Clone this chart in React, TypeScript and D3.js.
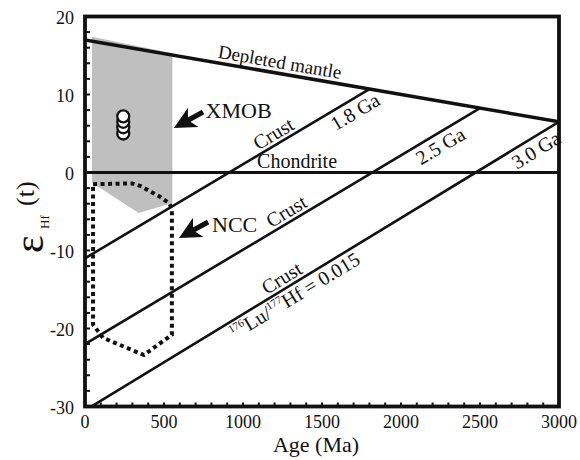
import * as d3 from "d3";
import React from "react";

// evolution lines (age in Ma, epsilon Hf)
const depletedMantle = [{ age: 0, e: 17.0 }, { age: 3000, e: 6.5 }];
const chondrite = [{ age: 0, e: 0 }, { age: 3000, e: 0 }];
const crust18 = [{ age: 0, e: -11.0 }, { age: 1800, e: 10.7 }];
const crust25 = [{ age: 0, e: -22.0 }, { age: 2500, e: 8.25 }];
const crust30 = [{ age: 0, e: -30.5 }, { age: 3000, e: 6.5 }];

// XMOB field (grey) and NCC field (dotted)
const xmobField = [
  { age: 44, e: 17.4 }, { age: 553, e: 15.3 }, { age: 553, e: -3.9 },
  { age: 340, e: -5.2 }, { age: 44, e: -1.3 },
];
const nccField = [
  { age: 51, e: -1.5 }, { age: 300, e: -1.4 }, { age: 360, e: -1.8 },
  { age: 410, e: -2.4 }, { age: 474, e: -3.1 }, { age: 530, e: -3.9 },
  { age: 550, e: -4.6 }, { age: 550, e: -20.8 }, { age: 373, e: -23.4 },
  { age: 114, e: -21.2 }, { age: 51, e: -19.5 },
];

// zircon samples
const sampleAges = [242, 242, 242, 242];
const sampleEHf = [5.0, 5.8, 6.5, 7.2];

const xTicks = [0, 500, 1000, 1500, 2000, 2500, 3000];
const yTicks = [-30, -20, -10, 0, 10, 20];
const xMinor = d3.range(0, 3001, 100);
const yMinor = d3.range(-30, 21, 2);

const W = 580, H = 460;
const x = d3.scaleLinear().domain([0, 3000]).range([85, 559]);
const y = d3.scaleLinear().domain([-30, 20]).range([406.5, 16.5]);

const line = d3.line<{ age: number; e: number }>().x(d => x(d.age)).y(d => y(d.e));
const FONT = "'Liberation Serif', 'Times New Roman', serif";

// label sitting on a line, rotated along it
function onLine(l, age, off) {
  const a = l[0], b = l[1];
  const t = (age - a.age) / (b.age - a.age);
  const e = a.e + t * (b.e - a.e);
  const ang = Math.atan2(y(b.e) - y(a.e), x(b.age) - x(a.age)) * 180 / Math.PI;
  return `translate(${x(age)},${y(e)}) rotate(${ang}) translate(0,${off})`;
}

function Arrow({ tip, tail }) {
  const tx = x(tip.age), ty = y(tip.e), sx = x(tail.age), sy = y(tail.e);
  const dx = sx - tx, dy = sy - ty;
  const len = Math.hypot(dx, dy);
  const ux = dx / len, uy = dy / len, px = -uy, py = ux;
  const hl = 22, hw = 11, notch = 16;
  const pts = [
    [tx, ty],
    [tx + ux * hl + px * hw, ty + uy * hl + py * hw],
    [tx + ux * notch, ty + uy * notch],
    [tx + ux * hl - px * hw, ty + uy * hl - py * hw],
  ];
  return (
    <g>
      <line x1={tx + ux * 12} y1={ty + uy * 12} x2={sx} y2={sy} stroke="#111" strokeWidth={5} />
      <polygon points={pts.map(p => p.join(",")).join(" ")} fill="#111" />
    </g>
  );
}

export default function App() {
  const lblSize = 20;
  return (
    <svg width={W} height={H} style={{ position: "absolute", left: 0, top: 0, background: "#fff" }}
      fontFamily={FONT}>
      <defs>
        <clipPath id="plot">
          <rect x={x(0)} y={y(20)} width={x(3000) - x(0)} height={y(-30) - y(20)} />
        </clipPath>
      </defs>

      <g clipPath="url(#plot)">
        <path d={line(xmobField) + "Z"} fill="#bfbfbf" />
        <path d={line(chondrite)} stroke="#111" strokeWidth={3} fill="none" />
        <path d={line(crust18)} stroke="#111" strokeWidth={2.6} fill="none" />
        <path d={line(crust25)} stroke="#111" strokeWidth={2.6} fill="none" />
        <path d={line(crust30)} stroke="#111" strokeWidth={2.6} fill="none" />
        <path d={line(depletedMantle)} stroke="#111" strokeWidth={3.5} fill="none" />
        <path d={line(nccField) + "Z"} stroke="#111" strokeWidth={4} strokeDasharray="4,3.5" fill="none" />
        {sampleAges.map((a, i) => (
          <circle key={i} cx={x(a)} cy={y(sampleEHf[i])} r={6} fill="#fff" stroke="#111" strokeWidth={2.3} />
        ))}
      </g>

      {/* minor ticks */}
      {yMinor.map(v => (
        <line key={"ym" + v} x1={x(0)} x2={x(0) + 5} y1={y(v)} y2={y(v)} stroke="#111" strokeWidth={2} />
      ))}
      {xMinor.map(v => (
        <line key={"xm" + v} x1={x(v)} x2={x(v)} y1={y(-30)} y2={y(-30) - 4} stroke="#111" strokeWidth={2} />
      ))}

      <rect x={x(0)} y={y(20)} width={x(3000) - x(0)} height={y(-30) - y(20)} fill="none" stroke="#111" strokeWidth={3.8} />

      {yTicks.map(v => (
        <text key={"yl" + v} x={74} y={y(v) + 7} textAnchor="end" fontSize={18} fill="#111">{v}</text>
      ))}
      {xTicks.map(v => (
        <text key={"xl" + v} x={x(v)} y={428} textAnchor="middle" fontSize={18} fill="#111">{v}</text>
      ))}

      <text x={316} y={452} textAnchor="middle" fontSize={22} fill="#111">Age (Ma)</text>
      <text transform="translate(43,253) rotate(-90)" fontSize={42} fill="#111">ε</text>
      <text transform="translate(49,229) rotate(-90)" fontSize={13} fill="#111">Hf</text>
      <text transform="translate(34,206) rotate(-90)" fontSize={26} fill="#111">(t)</text>

      {/* line labels */}
      <text transform={onLine(depletedMantle, 1221, -5)} textAnchor="middle" fontSize={19} fill="#111">Depleted mantle</text>
      <text transform={onLine(chondrite, 1342, -5)} textAnchor="middle" fontSize={lblSize} fill="#111">Chondrite</text>
      <text transform={onLine(crust18, 1228, -4)} textAnchor="middle" fontSize={lblSize} fill="#111">Crust</text>
      <text transform={onLine(crust18, 1670, 19)} textAnchor="middle" fontSize={lblSize} fill="#111">1.8 Ga</text>
      <text transform={onLine(crust25, 1310, -4)} textAnchor="middle" fontSize={lblSize} fill="#111">Crust</text>
      <text transform={onLine(crust25, 2210, 19)} textAnchor="middle" fontSize={lblSize} fill="#111">2.5 Ga</text>
      <text transform={onLine(crust30, 1280, -4)} textAnchor="middle" fontSize={lblSize} fill="#111">Crust</text>
      <text transform={onLine(crust30, 2815, 19)} textAnchor="middle" fontSize={lblSize} fill="#111">3.0 Ga</text>
      <text transform={onLine(crust30, 1290, 18)} textAnchor="middle" fontSize={lblSize} fill="#111">
        <tspan fontSize={11} dy={-8}>176</tspan>
        <tspan dy={8}>Lu/</tspan>
        <tspan fontSize={11} dy={-8}>177</tspan>
        <tspan dy={8}>Hf = 0.015</tspan>
      </text>

      <Arrow tip={{ age: 563, e: 5.7 }} tail={{ age: 747, e: 7.75 }} />
      <text x={x(763)} y={y(7.0)} fontSize={22} fill="#111">XMOB</text>
      <Arrow tip={{ age: 595, e: -8.4 }} tail={{ age: 779, e: -6.35 }} />
      <text x={x(804)} y={y(-7.6)} fontSize={22} fill="#111">NCC</text>
    </svg>
  );
}
